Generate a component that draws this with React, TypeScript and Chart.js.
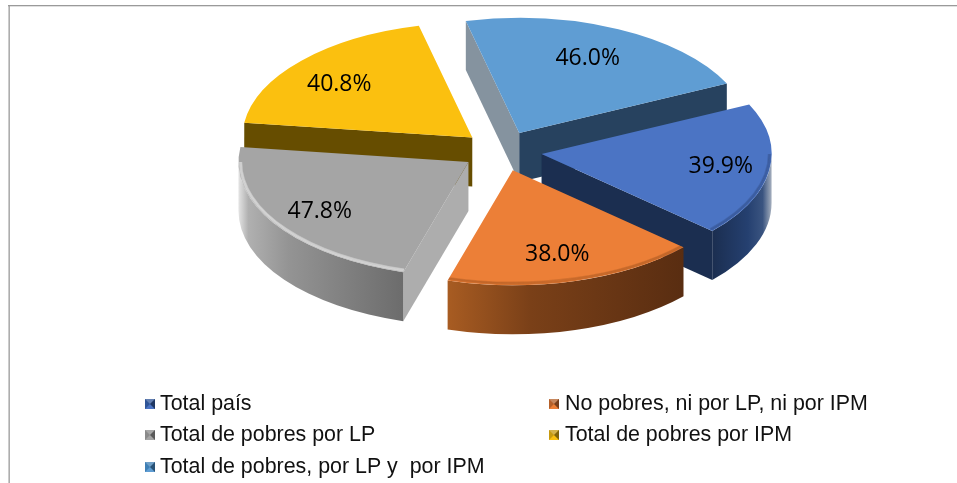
import React, { useEffect, useRef } from "react";
import { Chart, registerables } from "chart.js";

Chart.register(...registerables);

const categories = [
  "Total país",
  "No pobres, ni por LP, ni por IPM",
  "Total de pobres por LP",
  "Total de pobres por IPM",
  "Total de pobres, por LP y  por IPM",
];
const values = [39.9, 38.0, 47.8, 40.8, 46.0];

const topColors = ["#4B74C4", "#EC7F37", "#A5A5A5", "#FBC00F", "#5F9DD3"];
const startWallColors = ["#1B2E50", "#5A2E12", "#ADADAD", "#664D00", "#85939F"];
const endWallColors = ["#1B2E50", "#5A2E12", "#ADADAD", "#664D00", "#27425F"];
const arcWallStops: [number, string][][] = [
  [[0, "#1B2E50"], [0.6, "#254070"], [0.85, "#3A5480"], [1, "#A5AFBE"]],
  [[0, "#A85C22"], [0.35, "#7A4018"], [1, "#592D11"]],
  [[0, "#E4E4E4"], [0.06, "#B0B0B0"], [0.3, "#949494"], [1, "#6C6C6C"]],
  [[0, "#664D00"], [1, "#664D00"]],
  [[0, "#27425F"], [1, "#27425F"]],
];
const rimColors = ["rgba(30,50,90,0.22)", "rgba(120,60,20,0.22)", "rgba(250,250,250,0.4)", "rgba(0,0,0,0)", "rgba(0,0,0,0)"];
const legendMarkerColors = ["#2F5597", "#B5602A", "#8A8A8A", "#C79A10", "#3F7FB5"];
const labelNudgeX = [6, -3, -2, -3, -7];
const labelNudgeY = [2, 2, 4, 7, 6];
const drawOrder = [4, 3, 0, 2, 1];

const FLATTEN = 0.5;
const EXPLODE = 40;
const DEPTH = 49;
const CENTER_Y = 151;
const LABEL_RADIUS = 175;

const legendSlots = [
  { x: 145, y: 404 },
  { x: 549, y: 404 },
  { x: 145, y: 435 },
  { x: 549, y: 435 },
  { x: 145, y: 467 },
];

const pie3d = {
  id: "pie3d",
  beforeDatasetsDraw(chart: any) {
    const ctx: CanvasRenderingContext2D = chart.ctx;
    const arcs = chart.getDatasetMeta(0).data;

    for (const i of drawOrder) {
      const el = arcs[i];
      const s: number = el.startAngle;
      const e: number = el.endAngle;
      const mid = (s + e) / 2;
      const R: number = el.outerRadius;
      const ry = R * FLATTEN;
      const cx = el.x + Math.cos(mid) * EXPLODE;
      const cy = CENTER_Y + Math.sin(mid) * EXPLODE * FLATTEN;
      const px = (a: number) => cx + Math.cos(a) * R;
      const py = (a: number) => cy + Math.sin(a) * ry;

      const radialWall = (a: number, color: string) => {
        ctx.beginPath();
        ctx.moveTo(cx, cy);
        ctx.lineTo(px(a), py(a));
        ctx.lineTo(px(a), py(a) + DEPTH);
        ctx.lineTo(cx, cy + DEPTH);
        ctx.closePath();
        ctx.fillStyle = color;
        ctx.fill();
      };
      if (Math.cos(s) < 0) radialWall(s, startWallColors[i]);
      if (Math.cos(e) > 0) radialWall(e, endWallColors[i]);

      // visible part of the rim: where the outer surface faces the viewer
      let a0 = Infinity;
      let a1 = -Infinity;
      for (const k of [-1, 0, 1]) {
        const lo = Math.max(s, k * 2 * Math.PI);
        const hi = Math.min(e, k * 2 * Math.PI + Math.PI);
        if (hi > lo) {
          a0 = lo;
          a1 = hi;
        }
      }
      const hasRim = a1 > a0;
      if (hasRim) {
        const xs = [px(a0), px(a1)];
        const g = ctx.createLinearGradient(Math.min(...xs), 0, Math.max(...xs), 0);
        const stops = arcWallStops[i];
        stops.forEach(([o, c]) => g.addColorStop(o, c));
        ctx.beginPath();
        ctx.ellipse(cx, cy, R, ry, 0, a0, a1);
        ctx.ellipse(cx, cy + DEPTH, R, ry, 0, a1, a0, true);
        ctx.closePath();
        ctx.fillStyle = g;
        ctx.fill();
      }

      ctx.save();
      ctx.translate(cx, cy);
      ctx.scale(1, FLATTEN);
      ctx.translate(-el.x, -el.y);
      el.draw(ctx);
      ctx.restore();

      if (hasRim) {
        ctx.save();
        ctx.beginPath();
        ctx.moveTo(cx, cy);
        ctx.ellipse(cx, cy, R, ry, 0, s, e);
        ctx.closePath();
        ctx.clip();
        ctx.strokeStyle = rimColors[i];
        for (const inset of [1, 2, 3]) {
          ctx.beginPath();
          ctx.ellipse(cx, cy, R - inset, ry - inset, 0, a0, a1);
          ctx.lineWidth = 1.5;
          ctx.stroke();
        }
        ctx.restore();
      }
    }

    // value labels
    ctx.fillStyle = "#000";
    ctx.font = '23px "Open Sans", Lato, sans-serif';
    ctx.textAlign = "center";
    ctx.textBaseline = "middle";
    arcs.forEach((el: any, i: number) => {
      const mid = (el.startAngle + el.endAngle) / 2;
      const r = EXPLODE + LABEL_RADIUS;
      ctx.fillText(
        values[i].toFixed(1) + "%",
        el.x + Math.cos(mid) * r + labelNudgeX[i],
        CENTER_Y - 2 + Math.sin(mid) * r * FLATTEN + labelNudgeY[i]
      );
    });
    return false;
  },
  afterDraw(chart: any) {
    const ctx: CanvasRenderingContext2D = chart.ctx;
    // chart frame
    ctx.fillStyle = "#9A9A9A";
    ctx.fillRect(8, 5, chart.width - 8, 1.3);
    ctx.fillRect(8.5, 5, 1.3, chart.height - 5);

    // legend
    ctx.font = '21.4px "Liberation Sans", Arial, sans-serif';
    ctx.textAlign = "left";
    ctx.textBaseline = "middle";
    categories.forEach((label, i) => {
      const { x, y } = legendSlots[i];
      const m = 10;
      const top = y - 5;
      const c = legendMarkerColors[i];
      const tri = (x1: number, y1: number, x2: number, y2: number, color: string) => {
        ctx.beginPath();
        ctx.moveTo(x + m / 2, top + m / 2);
        ctx.lineTo(x1, y1);
        ctx.lineTo(x2, y2);
        ctx.closePath();
        ctx.fillStyle = color;
        ctx.fill();
      };
      ctx.fillStyle = c;
      ctx.fillRect(x, top, m, m);
      tri(x, top + m, x + m, top + m, topColors[i]);
      tri(x, top, x + m, top, "rgba(255,255,255,0.25)");
      tri(x + m, top, x + m, top + m, "rgba(0,0,0,0.35)");
      ctx.fillStyle = "#111";
      ctx.fillText(label, x + (i % 2 === 0 ? 15 : 16), y);
    });
  },
};

export default function App() {
  const ref = useRef<HTMLCanvasElement>(null);
  useEffect(() => {
    const chart = new Chart(ref.current!, {
      type: "pie",
      data: {
        labels: categories,
        datasets: [
          {
            data: values,
            backgroundColor: topColors,
            borderWidth: 0,
          },
        ],
      },
      options: {
        responsive: false,
        animation: false,
        rotation: 64.5,
        layout: { padding: { left: 47, bottom: 23 } },
        plugins: { legend: { display: false }, tooltip: { enabled: false } },
      },
      plugins: [pie3d],
    } as any);
    return () => chart.destroy();
  }, []);
  return (
    <div style={{ position: "fixed", left: 0, top: 0, width: 957, height: 483, background: "#fff" }}>
      <canvas ref={ref} width={957} height={483} style={{ display: "block" }} />
    </div>
  );
}
